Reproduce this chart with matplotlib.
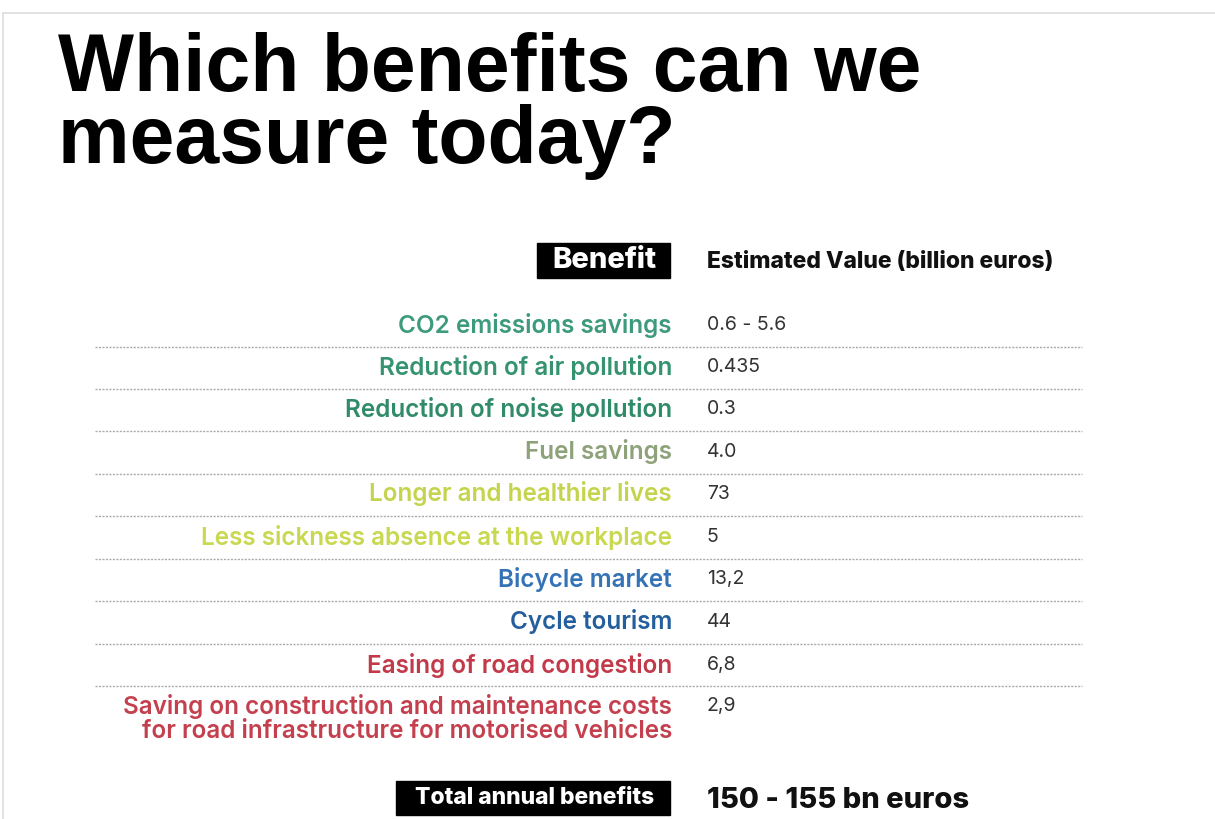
import matplotlib
matplotlib.use("Agg")
import matplotlib.pyplot as plt
from matplotlib.patches import Rectangle

# data
title = "Which benefits can we\nmeasure today?"
benefits = ["CO2 emissions savings",
            "Reduction of air pollution",
            "Reduction of noise pollution",
            "Fuel savings",
            "Longer and healthier lives",
            "Less sickness absence at the workplace",
            "Bicycle market",
            "Cycle tourism",
            "Easing of road congestion",
            "Saving on construction and maintenance costs\nfor road infrastructure for motorised vehicles"]
values = ["0.6 - 5.6", "0.435", "0.3", "4.0", "73", "5", "13,2", "44", "6,8", "2,9"]
colors = ["#3d9a7c", "#35946f", "#2f8b68", "#8ea27a", "#c4d44e", "#c8d850",
          "#3473b6", "#245e9c", "#c23a4a", "#c4404e"]
total_label = "Total annual benefits"
total_value = "150 - 155 bn euros"

W, H = 1215, 819
fig = plt.figure(figsize=(W/100, H/100), dpi=100)
ax = fig.add_axes([0, 0, 1, 1])
ax.set_xlim(0, W)
ax.set_ylim(H, 0)
ax.axis("off")

font = "Inter"

# thin frame
ax.plot([3, W], [13, 13], color="#dddddd", lw=1.2)
ax.plot([3, 3], [13, H], color="#dddddd", lw=1.2)

# title
ax.text(58, 163, title, fontsize=58, fontweight="bold",
        family=["Liberation Sans", "DejaVu Sans"],
        color="black", va="baseline", ha="left", linespacing=0.93)

# header
ax.add_patch(Rectangle((537, 243), 133, 35, color="black"))
ax.text(604, 261, "Benefit", fontsize=21, fontweight="heavy", family=font,
        color="white", ha="center", va="center")
ax.text(707, 262, "Estimated Value (billion euros)", fontsize=16.5,
        fontweight="heavy", family=font, color="#111111", ha="left", va="center")

row_y = [325, 367, 409, 452, 494, 537, 579, 622, 665, 706]
for i, (b, v, c) in enumerate(zip(benefits, values, colors)):
    y = row_y[i]
    if "\n" in b:
        ax.text(672, y - 12, b, fontsize=17.5, fontweight="semibold", family=font,
                color=c, ha="right", va="top", linespacing=1.05)
    else:
        ax.text(672, y, b, fontsize=17.5, fontweight="semibold", family=font,
                color=c, ha="right", va="center")
    ax.text(707, y, v, fontsize=14, family=font, color="#333333",
            ha="left", va="center")
    if i < len(benefits) - 1:
        ly = (row_y[i] + row_y[i + 1]) / 2 + 0.5
        ax.plot([95, 1082], [ly, ly], color="#aaaaaa", lw=1,
                linestyle=(0, (1.5, 1)))

# total
ax.add_patch(Rectangle((396, 781), 274, 34, color="black"))
ax.text(535, 798, total_label, fontsize=16.5, fontweight="heavy", family=font,
        color="white", ha="center", va="center")
ax.text(707, 800, total_value, fontsize=21, fontweight="heavy", family=font,
        color="#111111", ha="left", va="center")

fig.savefig("out.png", dpi=100, facecolor="white")
